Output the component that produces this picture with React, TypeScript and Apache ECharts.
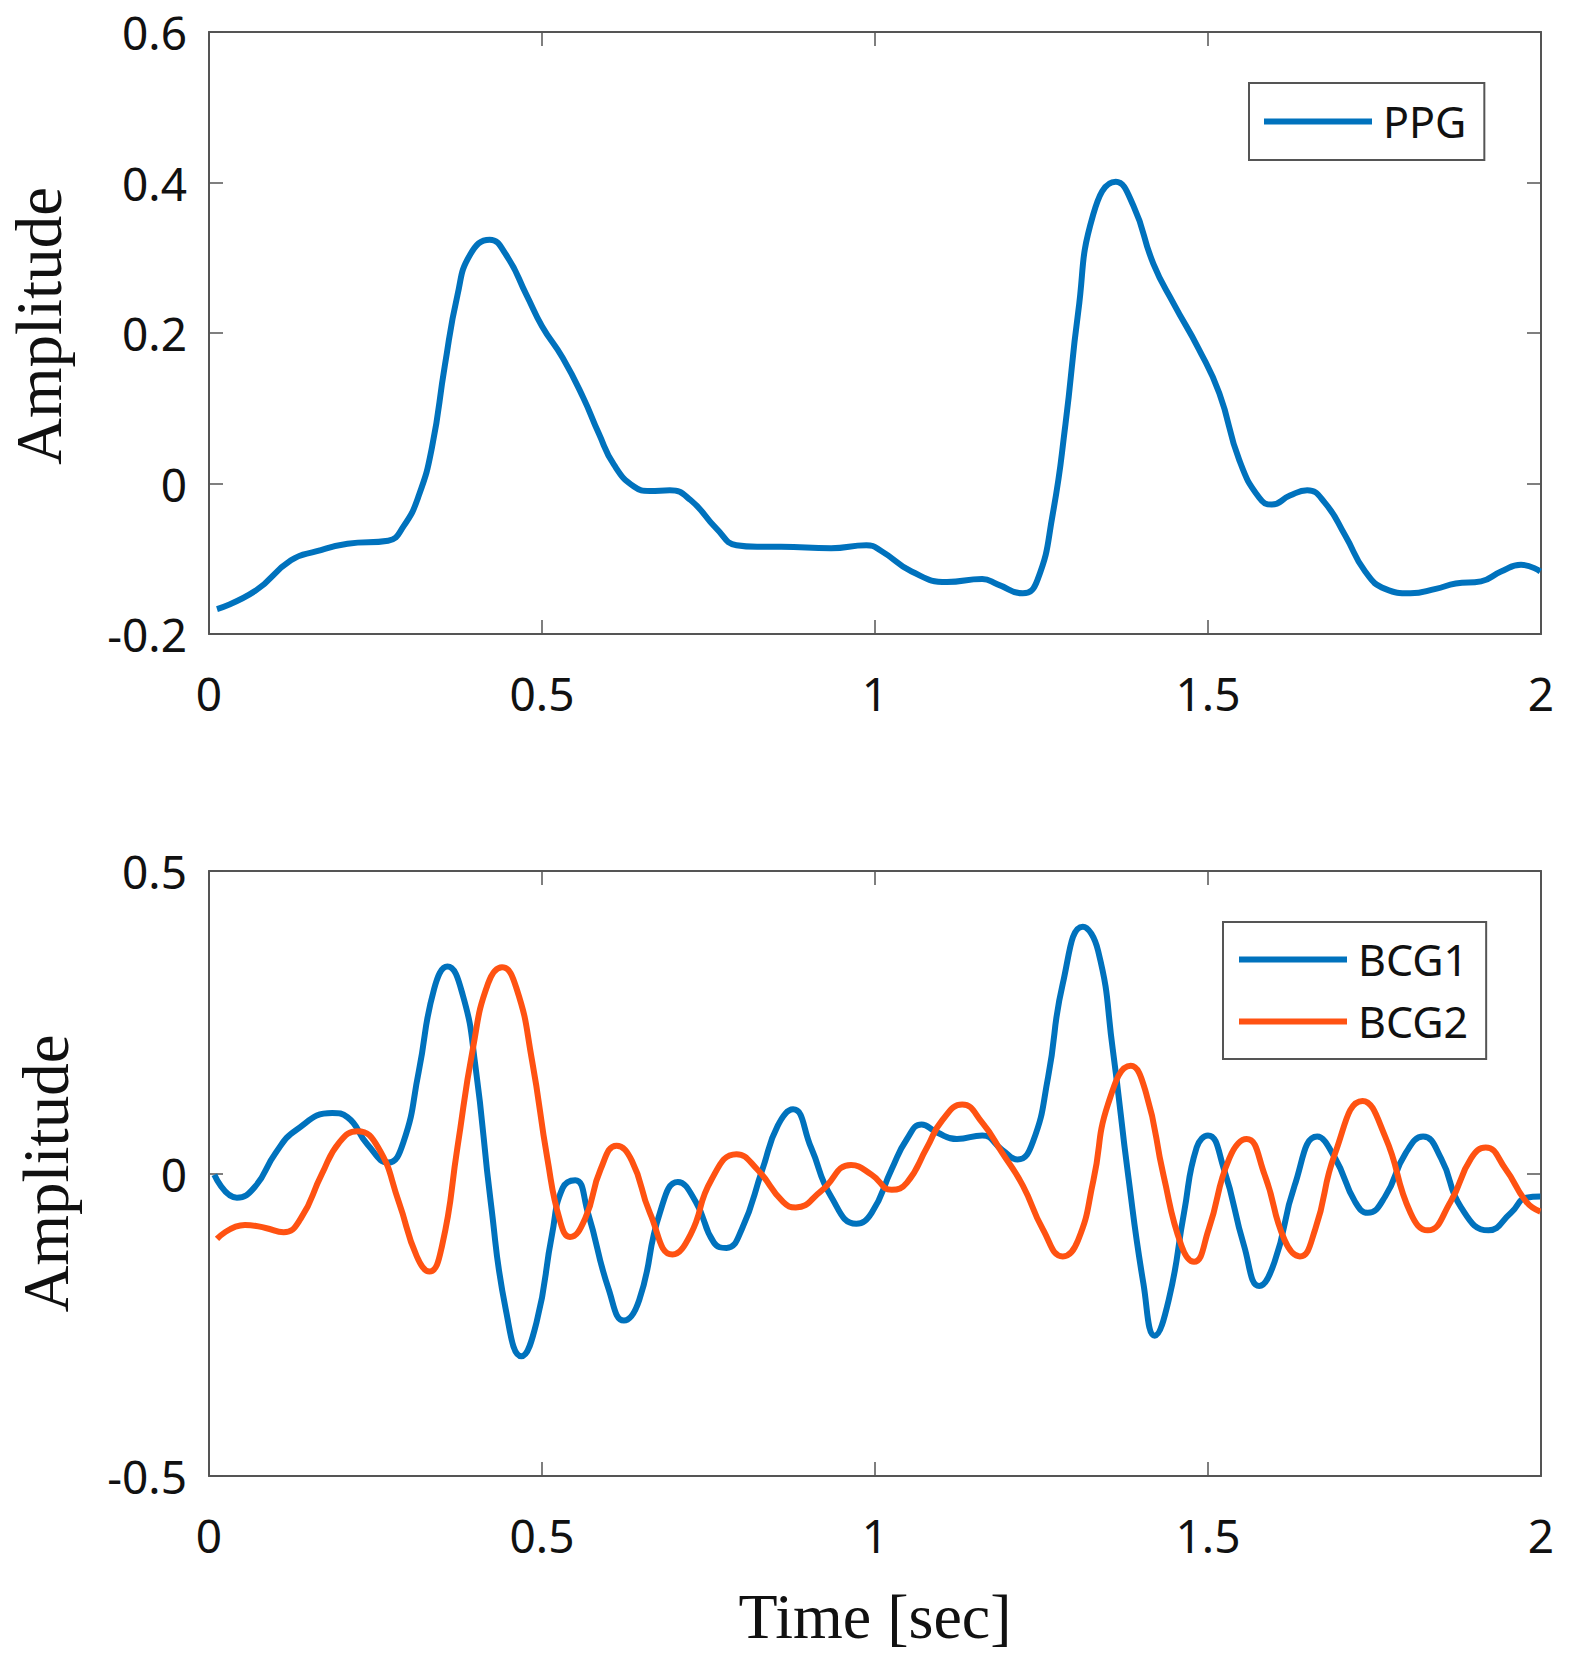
import React, { useEffect, useRef } from "react";
import * as echarts from "echarts";

// ---- data ----
const xTickInterval = 0.5;
const ppgTicks = { min: -0.2, max: 0.6, interval: 0.2 };
const bcgTicks = { min: -0.5, max: 0.5, interval: 0.5 };

const ppgT = [0.012, 0.069, 0.123, 0.162, 0.208, 0.269, 0.292, 0.315, 0.335, 0.354, 0.373, 0.392, 0.4215, 0.446, 0.477, 0.5, 0.531, 0.562, 0.585, 0.608, 0.638, 0.662, 0.692, 0.723, 0.762, 0.792, 0.823, 0.859, 0.934, 0.987, 1.01, 1.055, 1.108, 1.161, 1.184, 1.222, 1.244, 1.267, 1.286, 1.305, 1.3275, 1.3616, 1.388, 1.418, 1.449, 1.486, 1.517, 1.547, 1.577, 1.596, 1.623, 1.649, 1.675, 1.706, 1.736, 1.766, 1.804, 1.842, 1.872, 1.91, 1.94, 1.97, 1.999];
const ppgV = [-0.167, -0.143, -0.102, -0.09, -0.08, -0.076, -0.057, -0.016, 0.049, 0.156, 0.25, 0.304, 0.324, 0.304, 0.25, 0.209, 0.167, 0.114, 0.067, 0.025, -0.004, -0.01, -0.009, -0.022, -0.06, -0.082, -0.084, -0.084, -0.086, -0.082, -0.09, -0.117, -0.131, -0.127, -0.134, -0.146, -0.128, -0.04, 0.079, 0.227, 0.357, 0.401, 0.369, 0.292, 0.238, 0.179, 0.12, 0.031, -0.019, -0.028, -0.016, -0.009, -0.025, -0.069, -0.117, -0.14, -0.146, -0.14, -0.133, -0.13, -0.117, -0.108, -0.117];

const bcg1T = [0.008, 0.042, 0.069, 0.1, 0.131, 0.185, 0.208, 0.238, 0.269, 0.292, 0.315, 0.338, 0.358, 0.381, 0.4, 0.423, 0.446, 0.469, 0.492, 0.515, 0.531, 0.55, 0.569, 0.6, 0.623, 0.646, 0.677, 0.704, 0.731, 0.758, 0.777, 0.8, 0.831, 0.854, 0.877, 0.904, 0.934, 0.972, 0.995, 1.025, 1.048, 1.07, 1.093, 1.123, 1.161, 1.191, 1.214, 1.237, 1.26, 1.282, 1.312, 1.335, 1.357, 1.38, 1.403, 1.42, 1.441, 1.464, 1.483, 1.5, 1.524, 1.554, 1.577, 1.6, 1.63, 1.664, 1.691, 1.721, 1.74, 1.766, 1.797, 1.823, 1.85, 1.88, 1.921, 1.955, 1.978, 1.999];
const bcg1V = [-0.002, -0.04, -0.022, 0.034, 0.072, 0.1, 0.093, 0.048, 0.018, 0.052, 0.169, 0.305, 0.342, 0.295, 0.178, -0.047, -0.227, -0.302, -0.245, -0.101, -0.024, -0.011, -0.065, -0.191, -0.243, -0.209, -0.065, -0.014, -0.047, -0.114, -0.123, -0.092, 0.007, 0.079, 0.106, 0.043, -0.038, -0.083, -0.065, 0.007, 0.057, 0.081, 0.068, 0.057, 0.063, 0.039, 0.023, 0.052, 0.16, 0.314, 0.408, 0.368, 0.205, -0.002, -0.182, -0.268, -0.209, -0.065, 0.043, 0.063, 0.007, -0.119, -0.186, -0.146, -0.02, 0.061, 0.025, -0.047, -0.065, -0.038, 0.034, 0.061, 0.025, -0.056, -0.094, -0.065, -0.04, -0.038];

const bcg2T = [0.012, 0.054, 0.085, 0.112, 0.138, 0.169, 0.196, 0.223, 0.254, 0.285, 0.312, 0.331, 0.35, 0.373, 0.396, 0.419, 0.44, 0.462, 0.485, 0.508, 0.527, 0.542, 0.565, 0.588, 0.612, 0.635, 0.662, 0.696, 0.723, 0.754, 0.792, 0.823, 0.862, 0.881, 0.919, 0.964, 0.995, 1.025, 1.048, 1.078, 1.101, 1.131, 1.161, 1.191, 1.222, 1.252, 1.282, 1.305, 1.328, 1.35, 1.384, 1.407, 1.433, 1.46, 1.479, 1.501, 1.532, 1.558, 1.585, 1.615, 1.638, 1.661, 1.691, 1.732, 1.766, 1.804, 1.83, 1.864, 1.895, 1.917, 1.947, 1.978, 1.999];
const bcg2V = [-0.108, -0.085, -0.09, -0.097, -0.074, -0.002, 0.052, 0.07, 0.043, -0.047, -0.137, -0.162, -0.119, 0.043, 0.205, 0.314, 0.341, 0.305, 0.187, 0.025, -0.078, -0.105, -0.074, 0.007, 0.046, 0.021, -0.065, -0.134, -0.101, -0.011, 0.032, 0.007, -0.047, -0.056, -0.029, 0.014, -0.002, -0.027, -0.015, 0.043, 0.088, 0.114, 0.084, 0.034, -0.02, -0.092, -0.137, -0.11, -0.011, 0.115, 0.178, 0.133, -0.002, -0.119, -0.146, -0.092, 0.025, 0.057, -0.002, -0.11, -0.137, -0.092, 0.034, 0.12, 0.061, -0.065, -0.094, -0.047, 0.025, 0.043, 0.007, -0.047, -0.063];

const pairs = (t: number[], v: number[]) => t.map((x, i) => [x, v[i]]);

// ---- styles ----
const BLUE = "#0072BD";
const ORANGE = "#FF5212";
const AXIS_COLOR = "#555555";
const SANS = "Noto Sans";
const SERIF = "Liberation Serif";

function buildOption() {
  const axisLine = { show: true, onZero: false, lineStyle: { color: AXIS_COLOR, width: 2 } };
  const axisTick = { show: true, inside: true, length: 14, lineStyle: { color: AXIS_COLOR, width: 1.5 } };
  const label = { fontFamily: SANS, fontSize: 46, color: "#111111" };

  const xMain = (gridIndex: number, extra: any = {}) => ({
    type: "value",
    gridIndex,
    min: 0,
    max: 2,
    interval: xTickInterval,
    position: "bottom",
    axisLine,
    axisTick,
    splitLine: { show: false },
    axisLabel: { ...label, margin: 36 },
    ...extra,
  });
  const xTop = (gridIndex: number) => ({
    type: "value",
    gridIndex,
    min: 0,
    max: 2,
    interval: xTickInterval,
    position: "top",
    axisLine,
    axisTick,
    splitLine: { show: false },
    axisLabel: { show: false },
  });
  const yMain = (gridIndex: number, r: any, nameGap: number, shiftUp: number) => ({
    type: "value",
    gridIndex,
    min: r.min,
    max: r.max,
    interval: r.interval,
    position: "left",
    axisLine,
    axisTick,
    splitLine: { show: false },
    axisLabel: { ...label, margin: 22 },
    name: "Amplitude",
    nameLocation: "middle",
    nameRotate: 90,
    nameGap,
    nameTextStyle: { fontFamily: SERIF, fontSize: 65, color: "#111111", padding: [0, 0, 0, shiftUp] },
  });
  const yRight = (gridIndex: number, r: any) => ({
    type: "value",
    gridIndex,
    min: r.min,
    max: r.max,
    interval: r.interval,
    position: "right",
    axisLine,
    axisTick,
    splitLine: { show: false },
    axisLabel: { show: false },
  });

  const legendBase = {
    orient: "vertical",
    icon: "rect",
    itemWidth: 108,
    itemHeight: 6,
    itemGap: 19,
    borderColor: AXIS_COLOR,
    borderWidth: 2,
    borderRadius: 0,
    backgroundColor: "#ffffff",
    textStyle: { fontFamily: SANS, fontSize: 43, lineHeight: 43, color: "#111111", padding: [0, 0, 0, 6] },
  };

  const lineSeries = (name: string, data: number[][], color: string, xi: number, yi: number) => ({
    type: "line",
    name,
    data,
    xAxisIndex: xi,
    yAxisIndex: yi,
    showSymbol: false,
    symbol: "none",
    smooth: 0.5,
    color,
    lineStyle: { color, width: 6 },
  });

  return {
    animation: false,
    backgroundColor: "#ffffff",
    grid: [
      { left: 209, top: 32, width: 1332, height: 602, containLabel: false, outerBoundsMode: "none" },
      { left: 209, top: 871, width: 1332, height: 605, containLabel: false, outerBoundsMode: "none" },
    ],
    xAxis: [
      xMain(0),
      xTop(0),
      xMain(1, {
        name: "Time [sec]",
        nameLocation: "middle",
        nameGap: 108,
        nameTextStyle: { fontFamily: SERIF, fontSize: 64, color: "#111111" },
      }),
      xTop(1),
    ],
    yAxis: [yMain(0, ppgTicks, 138, 14), yRight(0, ppgTicks), yMain(1, bcgTicks, 131, 0), yRight(1, bcgTicks)],
    legend: [
      { ...legendBase, data: ["PPG"], left: 1249, top: 83, padding: [17, 18, 17, 15] },
      { ...legendBase, data: ["BCG1", "BCG2"], left: 1223, top: 922, padding: [16, 18, 16, 16] },
    ],
    series: [
      lineSeries("PPG", pairs(ppgT, ppgV), BLUE, 0, 0),
      lineSeries("BCG1", pairs(bcg1T, bcg1V), BLUE, 2, 2),
      lineSeries("BCG2", pairs(bcg2T, bcg2V), ORANGE, 2, 2),
    ],
  };
}

export default function App() {
  const ref = useRef<HTMLDivElement>(null);
  useEffect(() => {
    document.body.style.margin = "0";
    const chart = echarts.init(ref.current as HTMLDivElement, null, { renderer: "svg" });
    chart.setOption(buildOption() as any);
    return () => chart.dispose();
  }, []);
  return <div ref={ref} style={{ width: 1571, height: 1673 }} />;
}
